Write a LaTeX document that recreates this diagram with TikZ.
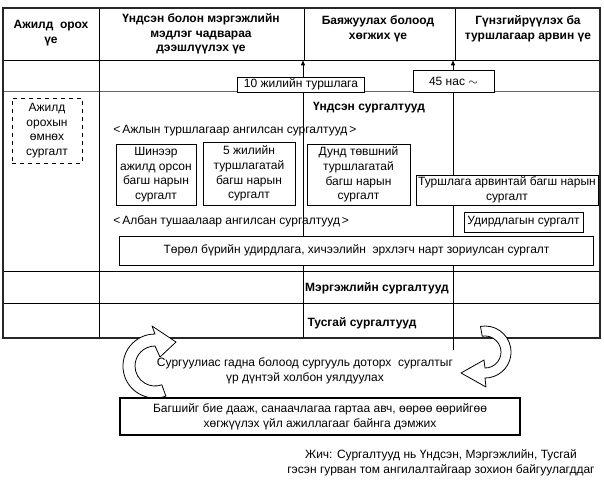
\documentclass[tikz,border=0pt]{standalone}
\usepackage{fontspec}
\setmainfont{Liberation Sans}
\usetikzlibrary{arrows.meta, positioning, calc}

\tikzset{
  hdr/.style={align=center, font=\fontsize{9}{11}\selectfont\bfseries},
  box/.style={draw, fill=white, align=center, inner sep=1.5pt, line width=0.6pt},
  tline/.style={line width=0.6pt, -{Latex[length=4pt, width=3.5pt]}},
  hollow/.style={draw, fill=white, line width=0.6pt, line join=round}
}

\begin{document}
\begin{tikzpicture}[x=0.75pt, y=-0.75pt, font=\fontsize{9}{11}\selectfont]
\useasboundingbox (0,0) rectangle (604,479);

% table
\draw[line width=0.6pt] (3,60) -- (600,60);
\draw[line width=0.6pt, black!60] (3,91) -- (600,91);
\draw[line width=0.6pt] (3,271) -- (600,271);
\draw[line width=0.6pt] (3,303) -- (600,303);
\draw[line width=0.6pt] (99,8) -- (99,338);
\draw[line width=0.6pt] (304,8) -- (304,60);
\draw[line width=0.6pt] (455,8) -- (455,60);
\draw[line width=1.3pt, black!85] (3,8) rectangle (600,338);

% time lines
\coordinate (top1) at (303,60);
\coordinate (bot1) at (303,338);
\coordinate (top2) at (453,60);
\coordinate (bot2) at (453,350);
\draw[tline] (bot1) -- (top1);
\draw[tline] (bot2) -- (top2);

% header
\node[hdr] (stage1) at (51,33) {Ажилд\ \ орох\\үе};
\node[hdr] (stage2) at (201,34) {Үндсэн болон мэргэжлийн\\мэдлэг чадвараа\\дээшлүүлэх үе};
\node[hdr] (stage3) at (378,29) {Баяжуулах болоод\\хөгжих үе};
\node[hdr] (stage4) at (528,29) {Гүнзгийрүүлэх ба\\туршлагаар арвин үе};

\node[box, minimum width=95pt, minimum height=11.25pt, inner sep=0.5pt] (tenyr) at (301,84.5) {10 жилийн туршлага};
\node[box, minimum width=60.75pt, minimum height=16.5pt] (age) at (453.5,81) {45 нас $\sim$};

% basic trainings
\node[box, dashed, minimum width=52.5pt, minimum height=48.75pt] (pre) at (47,130.5) {Ажилд\\орохын\\өмнөх\\сургалт};
\node[hdr] (basic) at (369,108) {Үндсэн сургалтууд};
\node[anchor=west, inner sep=0pt] (byexp) at (113,131) {<\,Ажлын туршлагаар ангилсан сургалтууд\,>};
\node[box, minimum width=60pt, minimum height=45.75pt] (new) at (156,174.5) {Шинээр\\ажилд орсон\\багш нарын\\сургалт};
\node[box, minimum width=69pt, minimum height=47.25pt] (five) at (249,173.5) {5 жилийн\\туршлагатай\\багш нарын\\сургалт};
\node[box, minimum width=77.25pt, minimum height=45.75pt] (mid) at (358.5,174.5) {Дунд төвшний\\туршлагатай\\багш нарын\\сургалт};
\node[box, minimum width=136.5pt, minimum height=22.5pt, inner sep=0.5pt] (senior) at (507,190) {Туршлага арвинтай багш нарын\\сургалт};
\node[anchor=west, inner sep=0pt] (bypos) at (113,221) {<\,Албан тушаалаар ангилсан сургалтууд\,>};
\node[box, minimum width=89.25pt, minimum height=15pt] (lead) at (523.5,222) {Удирдлагын сургалт};
\node[box, minimum width=355.5pt, minimum height=21.75pt] (heads) at (356.5,250.5) {Төрөл бүрийн удирдлага, хичээлийн\ \ эрхлэгч нарт зориулсан сургалт};

\node[hdr] (prof) at (377,288) {Мэргэжлийн сургалтууд};
\node[hdr] (special) at (362,323) {Тусгай сургалтууд};

% cycle arrows
\draw[hollow] (155,334) -- (152,326) -- (176,342) -- (160,357) -- (155,346)
  arc[start angle=270, end angle=70, radius=20] -- (165.9,396.1)
  arc[start angle=70, end angle=270, radius=32] -- cycle;
\draw[hollow] (480.5,326.4) arc[start angle=260, end angle=450, radius=26]
  -- (486,387) -- (461,373) -- (484,360) -- (485,368)
  arc[start angle=90, end angle=-100, radius=16] -- cycle;

\node[align=center] (link) at (305,371) {Сургуулиас гадна болоод сургууль доторх\ \ сургалтыг\\үр дүнтэй холбон уялдуулах};
\node[box, line width=1.2pt, minimum width=300pt, minimum height=27.75pt] (support) at (320,416.5) {Багшийг бие дааж, санаачлагаа гартаа авч, өөрөө өөрийгөө\\хөгжүүлэх үйл ажиллагааг байнга дэмжих};
\node[align=center] (note) at (441,463) {Жич: Сургалтууд нь Үндсэн, Мэргэжлийн, Тусгай\\гэсэн гурван том ангилалтайгаар зохион байгуулагддаг};
\end{tikzpicture}
\end{document}
